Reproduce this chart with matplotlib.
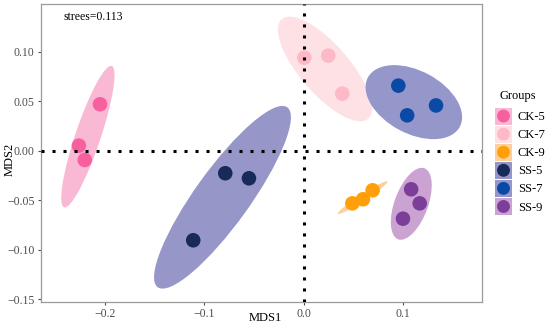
"""NMDS ordination plot with group ellipses."""
import numpy as np
import matplotlib
matplotlib.use("Agg")
import matplotlib.pyplot as plt
from matplotlib.patches import Ellipse, Rectangle
from matplotlib.legend_handler import HandlerBase

plt.rcParams['font.family'] = ['Liberation Serif', 'DejaVu Serif']

groups = ["CK-5", "CK-7", "CK-9", "SS-5", "SS-7", "SS-9"]
mds1 = {
    "CK-5": [-0.2047, -0.2259, -0.2200],
    "CK-7": [0.0006, 0.0247, 0.0388],
    "CK-9": [0.0489, 0.0596, 0.0693],
    "SS-5": [-0.0788, -0.0550, -0.1110],
    "SS-7": [0.0951, 0.1040, 0.1330],
    "SS-9": [0.1080, 0.1166, 0.0998],
}
mds2 = {
    "CK-5": [0.0472, 0.0054, -0.0091],
    "CK-7": [0.0942, 0.0963, 0.0579],
    "CK-9": [-0.0529, -0.0488, -0.0397],
    "SS-5": [-0.0225, -0.0276, -0.0902],
    "SS-7": [0.0660, 0.0360, 0.0460],
    "SS-9": [-0.0387, -0.0529, -0.0684],
}
point_colors = ["#F7609E", "#FDB9C6", "#FFA00A", "#172A5A", "#0A4AA6", "#7B3F9A"]
fill_colors = ["#F9B9D5", "#FDE1E4", "#FDD09A", "#9696C8", "#9596C9", "#CBA3D3"]
stress = 0.113

CHI2_95 = 5.991  # 95% level, 2 dof


class Key:
    def __init__(self, fill, point):
        self.fill = fill
        self.point = point


class KeyHandler(HandlerBase):
    """Filled square with a centred dot, like ggplot keys."""

    def create_artists(self, legend, orig_handle, xdescent, ydescent,
                       width, height, fontsize, trans):
        x0, y0 = -xdescent, -ydescent
        rect = Rectangle((x0, y0), width, height, facecolor=orig_handle.fill,
                         edgecolor='none', transform=trans)
        r = min(width, height) * 0.38
        dot = Ellipse((x0 + width / 2, y0 + height / 2), 2 * r, 2 * r,
                      facecolor=orig_handle.point, edgecolor='none', transform=trans)
        return [rect, dot]


fig = plt.figure(figsize=(5.5, 3.3), dpi=100)
ax = fig.add_axes([0.0745, 0.085, 0.8015, 0.903])

handles = []
for g, pc, fc in zip(groups, point_colors, fill_colors):
    x = np.array(mds1[g])
    y = np.array(mds2[g])
    cov = np.cov(x, y)
    vals, vecs = np.linalg.eigh(cov)
    order = vals.argsort()[::-1]
    vals, vecs = vals[order], vecs[:, order]
    angle = np.degrees(np.arctan2(vecs[1, 0], vecs[0, 0]))
    w, h = 2 * np.sqrt(CHI2_95 * vals)
    ax.add_patch(Ellipse((x.mean(), y.mean()), w, h, angle=angle,
                         facecolor=fc, edgecolor='none', zorder=1))
    ax.scatter(x, y, s=110, color=pc, edgecolors='none', zorder=2)
    handles.append(Key(fc, pc))

ax.axhline(0, color='black', lw=2.2, linestyle=(0, (1, 2.6)), dash_capstyle='butt', zorder=3)
ax.axvline(0, color='black', lw=2.2, linestyle=(0, (1, 2.6)), dash_capstyle='butt', zorder=3)

ax.set_xlim(-0.264, 0.179)
ax.set_ylim(-0.1525, 0.1485)
ax.set_xticks([-0.2, -0.1, 0.0, 0.1])
ax.set_xticklabels(["\u22120.2", "\u22120.1", "0.0", "0.1"])
ax.set_yticks([-0.15, -0.10, -0.05, 0.0, 0.05, 0.10])
ax.set_yticklabels(["\u22120.15", "\u22120.10", "\u22120.05", "0.00", "0.05", "0.10"])
ax.tick_params(colors='#4D4D4D', labelsize=8.5, length=2.5, width=0.8, pad=2)
for sp in ax.spines.values():
    sp.set_color('#9A9A9A')
    sp.set_linewidth(0.9)
ax.set_xlabel("MDS1", fontsize=9)
ax.set_ylabel("MDS2", fontsize=9)
ax.xaxis.set_label_coords(0.508, -0.054)
ax.xaxis.label.set_va('center')
ax.yaxis.set_label_coords(-0.071, 0.477)
ax.yaxis.label.set_va('center')

ax.text(-0.241, 0.135, "strees=%.3f" % stress, fontsize=8.5, va='center', ha='left')

# legend: title placed separately so the gap above the keys matches
fig.text(0.942, 0.709, "Groups", fontsize=9, ha='center', va='center')
leg = fig.legend(handles, groups, loc='upper left', bbox_to_anchor=(0.9, 0.674),
                 handler_map={Key: KeyHandler()},
                 frameon=False, fontsize=9,
                 handlelength=1.36, handleheight=1.71, labelspacing=0.09,
                 handletextpad=0.48, borderaxespad=0, borderpad=0)
fig.savefig("out.png", dpi=100)
